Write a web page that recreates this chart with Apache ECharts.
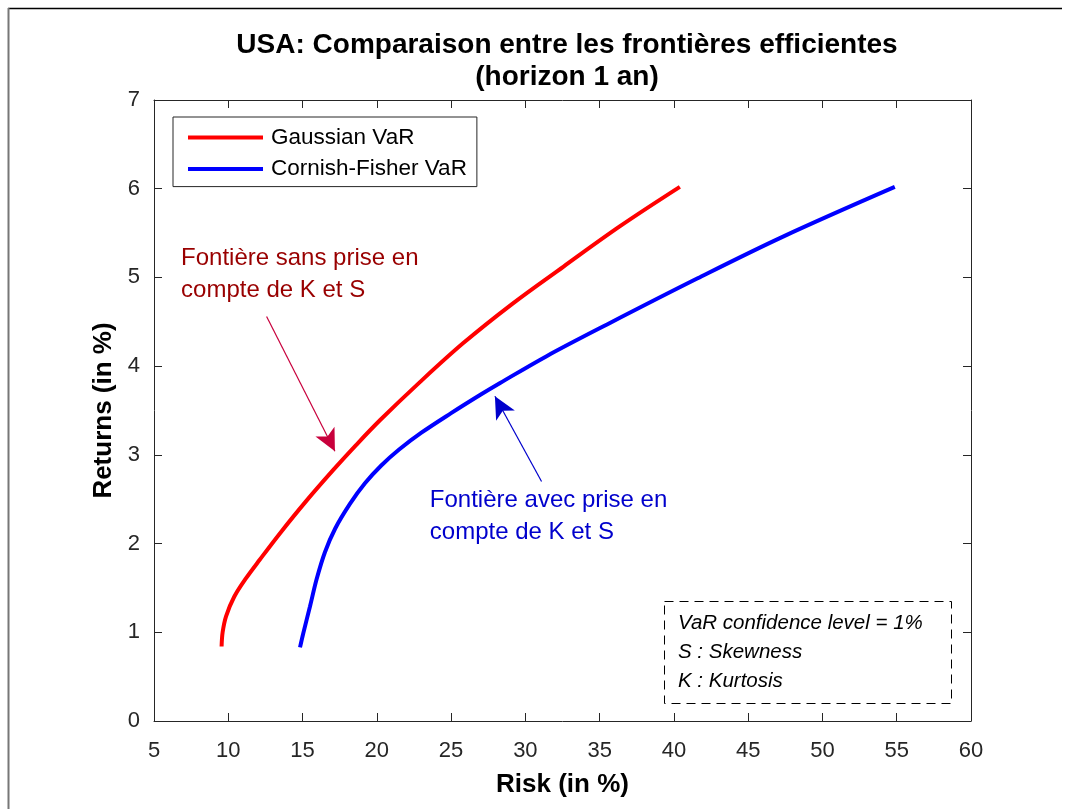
<!DOCTYPE html>
<html style="height: 100%">
  <head>
    <meta charset="utf-8" />
  </head>
  <body style="height: 100%; margin: 0; background: #fff">
    <div id="container" style="width: 1071px; height: 809px"></div>
    <script
      type="text/javascript"
      src="https://cdn.jsdelivr.net/npm/echarts@6.0.0/dist/echarts.min.js"
    ></script>

    <script type="text/javascript">
      var dom = document.getElementById("container");
      var myChart = echarts.init(dom);

      // Gaussian VaR frontier (risk %, return %)
      let gaussRisk = [9.55, 9.62, 9.85, 10.4, 11.2, 12.13, 13.5, 15.2, 17.07, 18.6, 20.21, 22.9, 25.82, 29.1, 32.55, 36.4, 40.4];
      let gaussRet = [0.84, 1.0, 1.18, 1.4, 1.61, 1.82, 2.12, 2.47, 2.83, 3.11, 3.39, 3.82, 4.26, 4.7, 5.12, 5.58, 6.02];
      // Cornish-Fisher VaR frontier
      let cfRisk = [14.83, 15.05, 15.5, 15.95, 16.5, 17.2, 18.2, 19.2, 20.3, 21.5, 23.0, 25.0, 27.0, 28.3, 31.4, 35.5, 41.6, 47.35, 54.87];
      let cfRet = [0.83, 0.99, 1.29, 1.6, 1.9, 2.17, 2.45, 2.68, 2.88, 3.06, 3.25, 3.47, 3.68, 3.81, 4.11, 4.47, 4.99, 5.46, 6.02];

      let xTicks = { min: 5, max: 60, interval: 5 };
      let yTicks = { min: 0, max: 7, interval: 1 };

      // arrows: [tail, head] in data coords
      let arrowSans = [[12.58, 4.56], [17.18, 3.04]];
      let arrowAvec = [[31.09, 2.7], [27.95, 3.66]];

      let noteSans = ["Fontière sans prise en", "compte de K et S"];
      let noteAvec = ["Fontière avec prise en", "compte de K et S"];
      let infoLines = ["VaR confidence level = 1%", "S : Skewness", "K : Kurtosis"];

      function pairs(xs, ys) {
        return xs.map(function (x, i) {
          return [x, ys[i]];
        });
      }

      var axisCol = "#262626";
      var font = "Liberation Sans";

      function xAx(pos, showLabel) {
        return {
          type: "value",
          position: pos,
          min: xTicks.min,
          max: xTicks.max,
          interval: xTicks.interval,
          name: showLabel ? "Risk (in %)" : "",
          nameLocation: "middle",
          nameGap: 51,
          nameTextStyle: { fontFamily: font, fontSize: 26, fontWeight: "bold", color: "#000" },
          axisLine: { show: true, onZero: false, lineStyle: { color: axisCol, width: 1 } },
          axisTick: { show: true, inside: true, length: 8, lineStyle: { color: axisCol } },
          axisLabel: { show: showLabel, margin: 19, fontFamily: font, fontSize: 22, color: axisCol },
          splitLine: { show: false },
        };
      }
      function yAx(pos, showLabel) {
        return {
          type: "value",
          position: pos,
          min: yTicks.min,
          max: yTicks.max,
          interval: yTicks.interval,
          name: showLabel ? "Returns (in %)" : "",
          nameLocation: "middle",
          nameGap: 31,
          nameTextStyle: { fontFamily: font, fontSize: 26, fontWeight: "bold", color: "#000" },
          axisLine: { show: true, onZero: false, lineStyle: { color: axisCol, width: 1 } },
          axisTick: { show: true, inside: true, length: 8, lineStyle: { color: axisCol } },
          axisLabel: { show: showLabel, margin: 14, fontFamily: font, fontSize: 22, color: axisCol },
          splitLine: { show: false },
        };
      }

      function arrowLine(a, color) {
        return {
          silent: true,
          symbol: ["none", "arrow"],
          symbolSize: [16, 22],
          label: { show: false },
          lineStyle: { color: color, width: 1.2, type: "solid" },
          emphasis: { disabled: true },
          data: [[{ coord: a[0] }, { coord: a[1] }]],
        };
      }

      var option = {
        animation: false,
        backgroundColor: "#fff",
        title: {
          text: "USA: Comparaison entre les frontières efficientes\n(horizon 1 an)",
          left: 562,
          textAlign: "center",
          top: 24,
          textStyle: { fontFamily: font, fontSize: 28, fontWeight: "bold", lineHeight: 32, color: "#000" },
        },
        legend: {
          orient: "vertical",
          left: 173,
          top: 117,
          padding: [9, 10, 6, 15],
          itemGap: 8.6,
          itemWidth: 75,
          itemHeight: 4,
          icon: "rect",
          borderColor: axisCol,
          borderWidth: 1,
          backgroundColor: "#fff",
          textStyle: { fontFamily: font, fontSize: 22.5, color: "#000", padding: [0, 0, 0, 3] },
          data: ["Gaussian VaR", "Cornish-Fisher VaR"],
        },
        grid: { left: 154, right: 100, top: 100, bottom: 88, containLabel: false },
        xAxis: [xAx("bottom", true), xAx("top", false)],
        yAxis: [yAx("left", true), yAx("right", false)],
        series: [
          {
            name: "Gaussian VaR",
            type: "line",
            data: pairs(gaussRisk, gaussRet),
            showSymbol: false,
            symbol: "none",
            smooth: 0.35,
            lineStyle: { color: "#ff0000", width: 4 },
            itemStyle: { color: "#ff0000" },
            markLine: arrowLine(arrowSans, "#c8003c"),
            z: 3,
          },
          {
            name: "Cornish-Fisher VaR",
            type: "line",
            data: pairs(cfRisk, cfRet),
            showSymbol: false,
            symbol: "none",
            smooth: 0.35,
            lineStyle: { color: "#0000ff", width: 4 },
            itemStyle: { color: "#0000ff" },
            markLine: arrowLine(arrowAvec, "#0000cc"),
            z: 3,
          },
        ],
      };

      myChart.setOption(option);

      // annotations placed from data-space anchors
      var pSans = myChart.convertToPixel({ gridIndex: 0 }, [6.82, 5.04]);
      var pAvec = myChart.convertToPixel({ gridIndex: 0 }, [23.57, 2.31]);

      var graphics = [
        // figure frame
        { type: "line", shape: { x1: 8, y1: 8.5, x2: 1062, y2: 8.5 }, style: { stroke: "#000", lineWidth: 1.5 }, z: 100 },
        { type: "line", shape: { x1: 8.5, y1: 8, x2: 8.5, y2: 809 }, style: { stroke: "#777", lineWidth: 2 }, z: 100 },
        {
          type: "text",
          x: pSans[0],
          y: pSans[1],
          style: {
            text: noteSans.join("\n"),
            fontFamily: font,
            fontSize: 24,
            lineHeight: 32,
            fill: "#990000",
            verticalAlign: "middle",
          },
          z: 100,
        },
        {
          type: "text",
          x: pAvec[0],
          y: pAvec[1],
          style: {
            text: noteAvec.join("\n"),
            fontFamily: font,
            fontSize: 24,
            lineHeight: 32,
            fill: "#0000cc",
            verticalAlign: "middle",
          },
          z: 100,
        },
        {
          type: "rect",
          shape: { x: 664.5, y: 601.5, width: 287, height: 102 },
          style: { fill: "#fff", stroke: "#000", lineWidth: 1, lineDash: [9, 6] },
          z: 100,
        },
        {
          type: "text",
          x: 678,
          y: 609,
          style: {
            text: infoLines.join("\n"),
            fontFamily: font,
            fontSize: 20.5,
            fontStyle: "italic",
            lineHeight: 29,
            fill: "#000",
          },
          z: 101,
        },
      ];
      myChart.setOption({ graphic: graphics });
    </script>
  </body>
</html>
